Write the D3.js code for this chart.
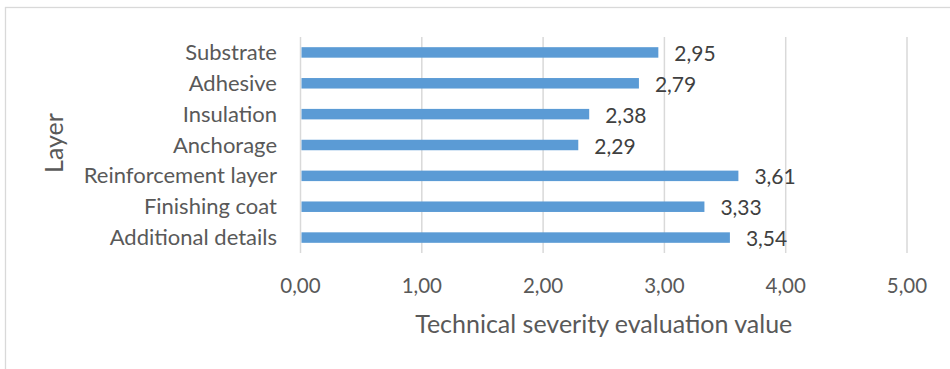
<!DOCTYPE html>
<html><head><meta charset="utf-8">
<script src="https://cdn.jsdelivr.net/npm/d3@7"></script>
<style>body{margin:0;background:#fff}svg{display:block}text{font-family:Lato,"Open Sans",sans-serif}</style>
</head><body>
<script>
const categories = ["Substrate","Adhesive","Insulation","Anchorage","Reinforcement layer","Finishing coat","Additional details"];
const values = [2.95,2.79,2.38,2.29,3.61,3.33,3.54];
const tickValues = [0,1,2,3,4,5];
const xTitle = "Technical severity evaluation value";
const yTitle = "Layer";

const W=950,H=369;
const svg=d3.select("body").append("svg").attr("width",W).attr("height",H);
svg.append("rect").attr("x",5.5).attr("y",7.5).attr("width",W).attr("height",H).attr("fill","none").attr("stroke","#d9d9d9").attr("stroke-width",1.3);

const x=d3.scaleLinear().domain([0,5]).range([300.5,907]);
const y=d3.scaleBand().domain(categories).range([37,253]).paddingInner(0.66).paddingOuter(0.33);
const fmt=d=>d.toFixed(2).replace(".",",");

svg.append("g").selectAll("line").data(tickValues).join("line")
  .attr("x1",d=>x(d)).attr("x2",d=>x(d)).attr("y1",37).attr("y2",253)
  .attr("stroke","#d9d9d9").attr("stroke-width",1.5);

svg.append("g").selectAll("rect").data(values).join("rect")
  .attr("x",x(0)+1).attr("y",(d,i)=>y(categories[i]))
  .attr("width",d=>x(d)-x(0)-1).attr("height",y.bandwidth())
  .attr("fill","#5b9bd5");

svg.append("g").selectAll("text").data(values).join("text")
  .attr("x",d=>x(d)+16).attr("y",(d,i)=>y(categories[i])+y.bandwidth()/2+8.5)
  .attr("font-size",21).attr("fill","#404040").text(fmt);

svg.append("g").selectAll("text").data(categories).join("text")
  .attr("x",277).attr("y",d=>y(d)+y.bandwidth()/2+7.5).attr("text-anchor","end")
  .attr("font-size",22).attr("fill","#595959").text(d=>d);

svg.append("g").selectAll("text").data(tickValues).join("text")
  .attr("x",d=>x(d)).attr("y",293).attr("text-anchor","middle")
  .attr("font-size",20.5).attr("fill","#595959").text(fmt);

svg.append("text").attr("x",(x(0)+x(5))/2).attr("y",333).attr("text-anchor","middle")
  .attr("font-size",25).attr("fill","#595959").text(xTitle);
svg.append("text").attr("transform","translate(63,143) rotate(-90)").attr("text-anchor","middle")
  .attr("font-size",25).attr("fill","#595959").text(yTitle);
</script>
</body></html>
